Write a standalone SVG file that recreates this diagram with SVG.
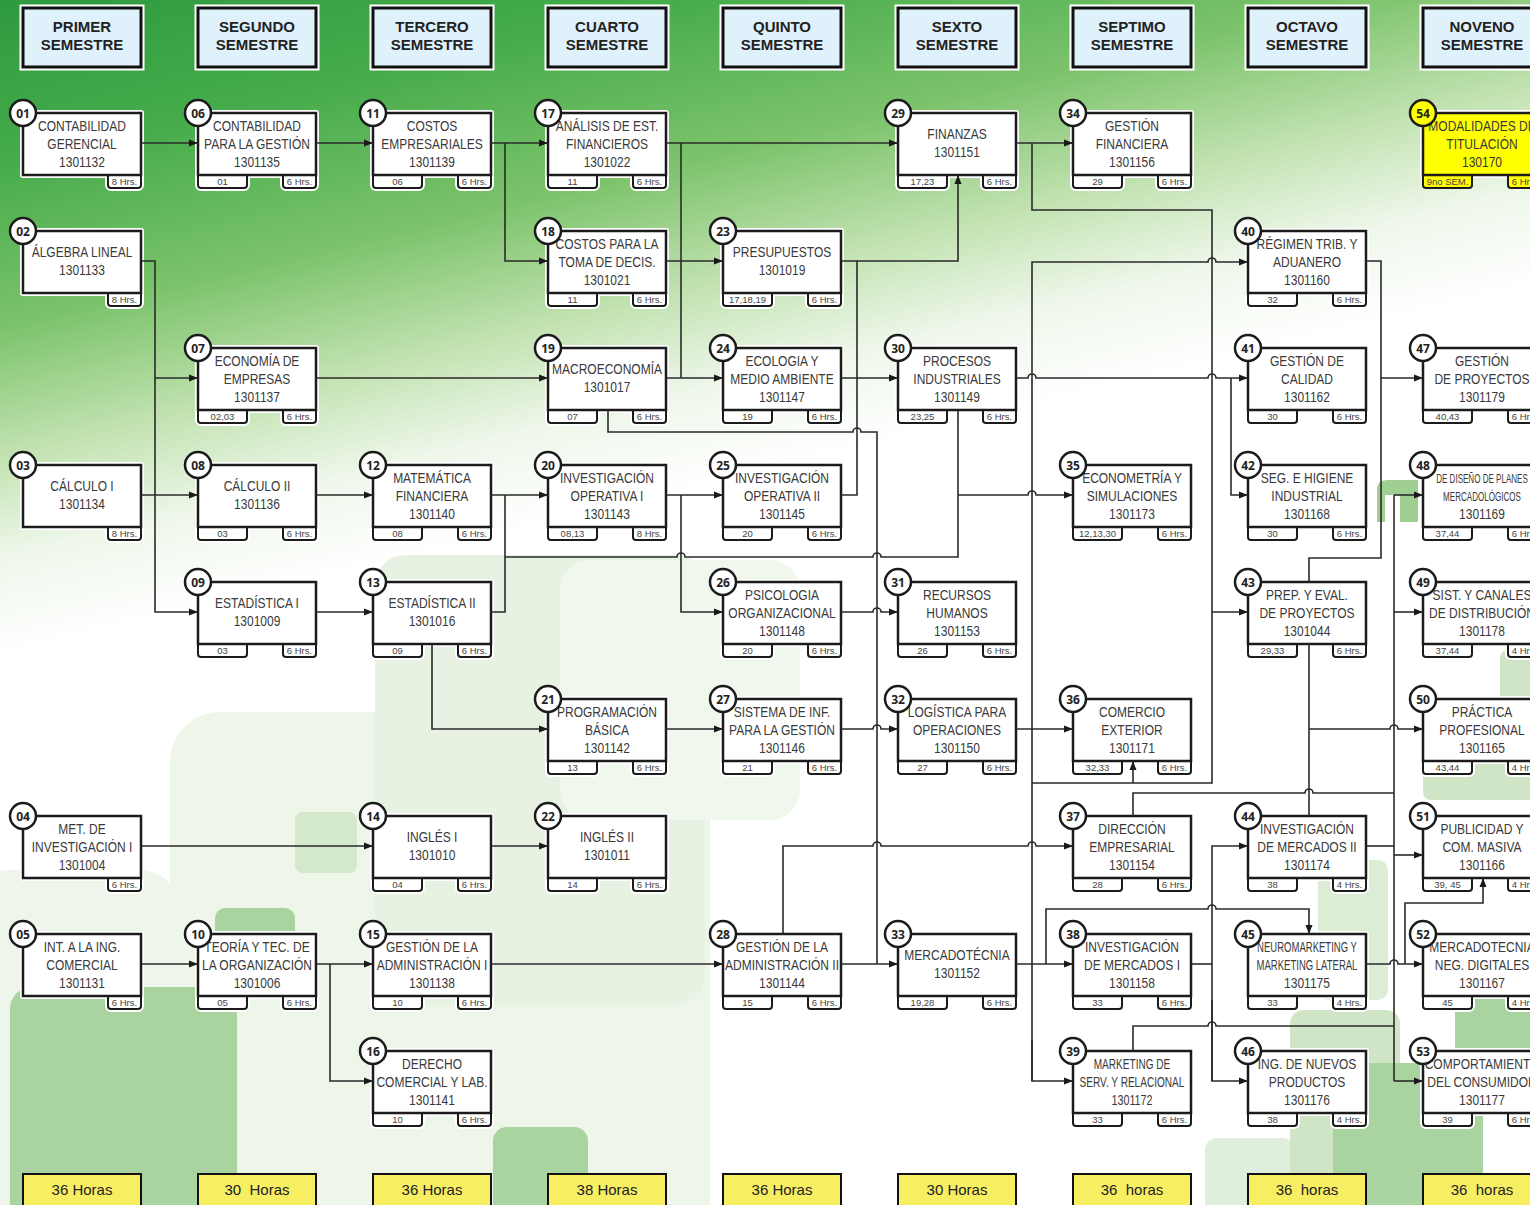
<svg xmlns="http://www.w3.org/2000/svg" width="1530" height="1205" viewBox="0 0 1530 1205">
<defs>
<linearGradient id="bg" x1="0" y1="0" x2="150" y2="620" gradientUnits="userSpaceOnUse">
<stop offset="0" stop-color="#2e9a3e"/>
<stop offset="0.25" stop-color="#46ac4b"/>
<stop offset="0.5" stop-color="#7cc36b"/>
<stop offset="0.7" stop-color="#c3e3b2"/>
<stop offset="0.85" stop-color="#eef7ea"/>
<stop offset="1" stop-color="#ffffff"/>
</linearGradient>
<marker id="ah" markerWidth="9" markerHeight="8" refX="9" refY="4" orient="auto" markerUnits="userSpaceOnUse">
<path d="M0,0.5 L9,4 L0,7.5 Z" fill="#1a1a1a"/>
</marker>
<g id="bx2">
<rect class="halo" x="0" y="0" width="118" height="62"/>
<rect class="halo" x="0" y="58" width="49" height="17" rx="3"/>
<rect class="halo" x="85" y="58" width="33" height="17" rx="3"/>
<rect class="tab" x="0" y="58" width="49" height="17" rx="3"/>
<rect class="tab" x="85" y="58" width="33" height="17" rx="3"/>
<rect class="box" x="0" y="0" width="118" height="62"/>
</g>
<g id="bx1">
<rect class="halo" x="0" y="0" width="118" height="62"/>
<rect class="halo" x="85" y="58" width="33" height="17" rx="3"/>
<rect class="tab" x="85" y="58" width="33" height="17" rx="3"/>
<rect class="box" x="0" y="0" width="118" height="62"/>
</g>
<g id="bxy">
<rect class="halo" x="0" y="0" width="118" height="62"/>
<rect class="tab" x="0" y="58" width="49" height="17" rx="3" style="fill:#ffff00"/>
<rect class="tab" x="85" y="58" width="33" height="17" rx="3" style="fill:#ffff00"/>
<rect class="box" x="0" y="0" width="118" height="62" style="fill:#ffff00"/>
</g>
<style>
.box{fill:#fff;stroke:#1b1b1b;stroke-width:2.5}
.tab{fill:#fff;stroke:#1b1b1b;stroke-width:2}
.halo{fill:none;stroke:#fff;stroke-width:6;stroke-linejoin:round}
.t text{font-family:"Liberation Sans",Arial,sans-serif;font-size:15px;fill:#3a3a3a;text-anchor:middle}
.s{font-family:"Liberation Sans",Arial,sans-serif;font-size:9.5px;fill:#444;text-anchor:middle}
.cc{fill:#fff;stroke:#1b1b1b;stroke-width:2.5}
.cn{font-family:"Noto Sans","Liberation Sans",sans-serif;font-weight:bold;font-size:12px;fill:#222;text-anchor:middle}
.hb{fill:#dff1fb;stroke:#111;stroke-width:3}
.hh{fill:none;stroke:#fff;stroke-width:7}
.ht{font-family:"Liberation Sans",Arial,sans-serif;font-weight:bold;font-size:15px;fill:#222;text-anchor:middle}
.fb{fill:#f8ee62;stroke:#111;stroke-width:2}
.ft{font-family:"Liberation Sans",Arial,sans-serif;font-size:15px;fill:#222;text-anchor:middle;white-space:pre}
.ln{fill:none;stroke:#2a2a2a;stroke-width:1.6}
.ar{marker-end:url(#ah)}
</style>
</defs>

<g id="background">
<rect x="0" y="0" width="1530" height="1205" fill="url(#bg)"/>
<rect x="170" y="712" width="540" height="560" rx="50" fill="#eef6ea"/>
<rect x="375" y="555" width="330" height="450" rx="30" fill="#e8f2e3"/>
<rect x="560" y="560" width="240" height="260" rx="30" fill="#f0f7ec"/>
<rect x="-30" y="870" width="210" height="400" rx="40" fill="#eef5ea"/>
<rect x="10" y="987" width="227" height="260" rx="22" fill="#a9d39f"/>
<rect x="215" y="908" width="80" height="40" rx="10" fill="#a9d39f"/>
<rect x="295" y="812" width="62" height="61" rx="8" fill="#d4e8cc"/>
<rect x="493" y="1127" width="95" height="100" rx="14" fill="#a9d39f"/>
<rect x="1205" y="1138" width="90" height="90" rx="12" fill="#dfeedd"/>
<rect x="1290" y="1010" width="110" height="220" rx="14" fill="#cfe5c6"/>
<rect x="1318" y="860" width="70" height="140" rx="10" fill="#dcecd5"/>
<rect x="1333" y="1063" width="150" height="160" rx="10" fill="#a9d49f"/>
<rect x="1455" y="990" width="90" height="75" rx="8" fill="#a9d49f"/>
<rect x="1423" y="760" width="120" height="40" rx="8" fill="#cfe5c6"/>
<rect x="1500" y="650" width="40" height="150" rx="8" fill="#cfe5c6"/>
<path d="M1377,490 Q1377,480 1387,480 H1418 V522 H1400 V495 H1385 V522 H1377 Z" fill="#9fcf91"/>
</g>

<g id="headers">
<g id="h1"><rect class="hh" x="23" y="8" width="118" height="59"/><rect class="hb" x="23" y="8" width="118" height="59"/><text class="ht" x="82" y="32">PRIMER</text><text class="ht" x="82" y="50">SEMESTRE</text></g>
<g id="h2"><rect class="hh" x="198" y="8" width="118" height="59"/><rect class="hb" x="198" y="8" width="118" height="59"/><text class="ht" x="257" y="32">SEGUNDO</text><text class="ht" x="257" y="50">SEMESTRE</text></g>
<g id="h3"><rect class="hh" x="373" y="8" width="118" height="59"/><rect class="hb" x="373" y="8" width="118" height="59"/><text class="ht" x="432" y="32">TERCERO</text><text class="ht" x="432" y="50">SEMESTRE</text></g>
<g id="h4"><rect class="hh" x="548" y="8" width="118" height="59"/><rect class="hb" x="548" y="8" width="118" height="59"/><text class="ht" x="607" y="32">CUARTO</text><text class="ht" x="607" y="50">SEMESTRE</text></g>
<g id="h5"><rect class="hh" x="723" y="8" width="118" height="59"/><rect class="hb" x="723" y="8" width="118" height="59"/><text class="ht" x="782" y="32">QUINTO</text><text class="ht" x="782" y="50">SEMESTRE</text></g>
<g id="h6"><rect class="hh" x="898" y="8" width="118" height="59"/><rect class="hb" x="898" y="8" width="118" height="59"/><text class="ht" x="957" y="32">SEXTO</text><text class="ht" x="957" y="50">SEMESTRE</text></g>
<g id="h7"><rect class="hh" x="1073" y="8" width="118" height="59"/><rect class="hb" x="1073" y="8" width="118" height="59"/><text class="ht" x="1132" y="32">SEPTIMO</text><text class="ht" x="1132" y="50">SEMESTRE</text></g>
<g id="h8"><rect class="hh" x="1248" y="8" width="118" height="59"/><rect class="hb" x="1248" y="8" width="118" height="59"/><text class="ht" x="1307" y="32">OCTAVO</text><text class="ht" x="1307" y="50">SEMESTRE</text></g>
<g id="h9"><rect class="hh" x="1423" y="8" width="118" height="59"/><rect class="hb" x="1423" y="8" width="118" height="59"/><text class="ht" x="1482" y="32">NOVENO</text><text class="ht" x="1482" y="50">SEMESTRE</text></g>
</g>

<g id="footers">
<g id="f1"><rect class="fb" x="23" y="1174" width="118" height="40"/><text class="ft" x="82" y="1195" xml:space="preserve">36 Horas</text></g>
<g id="f2"><rect class="fb" x="198" y="1174" width="118" height="40"/><text class="ft" x="257" y="1195" xml:space="preserve">30  Horas</text></g>
<g id="f3"><rect class="fb" x="373" y="1174" width="118" height="40"/><text class="ft" x="432" y="1195" xml:space="preserve">36 Horas</text></g>
<g id="f4"><rect class="fb" x="548" y="1174" width="118" height="40"/><text class="ft" x="607" y="1195" xml:space="preserve">38 Horas</text></g>
<g id="f5"><rect class="fb" x="723" y="1174" width="118" height="40"/><text class="ft" x="782" y="1195" xml:space="preserve">36 Horas</text></g>
<g id="f6"><rect class="fb" x="898" y="1174" width="118" height="40"/><text class="ft" x="957" y="1195" xml:space="preserve">30 Horas</text></g>
<g id="f7"><rect class="fb" x="1073" y="1174" width="118" height="40"/><text class="ft" x="1132" y="1195" xml:space="preserve">36  horas</text></g>
<g id="f8"><rect class="fb" x="1248" y="1174" width="118" height="40"/><text class="ft" x="1307" y="1195" xml:space="preserve">36  horas</text></g>
<g id="f9"><rect class="fb" x="1423" y="1174" width="118" height="40"/><text class="ft" x="1482" y="1195" xml:space="preserve">36  horas</text></g>
</g>

<g id="nodes">
<g id="n01" transform="translate(23,113)"><use href="#bx1"/><g class="t" transform="translate(59,0) scale(0.8,1)"><text y="18">CONTABILIDAD</text><text y="36">GERENCIAL</text><text y="54">1301132</text></g><text class="s" x="101.5" y="72">8 Hrs.</text><circle class="cc" r="13"/><text class="cn" y="4.5">01</text></g>
<g id="n02" transform="translate(23,231)"><use href="#bx1"/><g class="t" transform="translate(59,0) scale(0.8,1)"><text y="26">ÁLGEBRA LINEAL</text><text y="44">1301133</text></g><text class="s" x="101.5" y="72">8 Hrs.</text><circle class="cc" r="13"/><text class="cn" y="4.5">02</text></g>
<g id="n03" transform="translate(23,465)"><use href="#bx1"/><g class="t" transform="translate(59,0) scale(0.8,1)"><text y="26">CÁLCULO I</text><text y="44">1301134</text></g><text class="s" x="101.5" y="72">8 Hrs.</text><circle class="cc" r="13"/><text class="cn" y="4.5">03</text></g>
<g id="n04" transform="translate(23,816)"><use href="#bx1"/><g class="t" transform="translate(59,0) scale(0.8,1)"><text y="18">MET. DE</text><text y="36">INVESTIGACIÓN I</text><text y="54">1301004</text></g><text class="s" x="101.5" y="72">6 Hrs.</text><circle class="cc" r="13"/><text class="cn" y="4.5">04</text></g>
<g id="n05" transform="translate(23,934)"><use href="#bx1"/><g class="t" transform="translate(59,0) scale(0.8,1)"><text y="18">INT. A LA ING.</text><text y="36">COMERCIAL</text><text y="54">1301131</text></g><text class="s" x="101.5" y="72">6 Hrs.</text><circle class="cc" r="13"/><text class="cn" y="4.5">05</text></g>

<g id="n06" transform="translate(198,113)"><use href="#bx2"/><g class="t" transform="translate(59,0) scale(0.8,1)"><text y="18">CONTABILIDAD</text><text y="36">PARA LA GESTIÓN</text><text y="54">1301135</text></g><text class="s" x="24.5" y="72">01</text><text class="s" x="101.5" y="72">6 Hrs.</text><circle class="cc" r="13"/><text class="cn" y="4.5">06</text></g>
<g id="n07" transform="translate(198,348)"><use href="#bx2"/><g class="t" transform="translate(59,0) scale(0.8,1)"><text y="18">ECONOMÍA DE</text><text y="36">EMPRESAS</text><text y="54">1301137</text></g><text class="s" x="24.5" y="72">02,03</text><text class="s" x="101.5" y="72">6 Hrs.</text><circle class="cc" r="13"/><text class="cn" y="4.5">07</text></g>
<g id="n08" transform="translate(198,465)"><use href="#bx2"/><g class="t" transform="translate(59,0) scale(0.8,1)"><text y="26">CÁLCULO II</text><text y="44">1301136</text></g><text class="s" x="24.5" y="72">03</text><text class="s" x="101.5" y="72">6 Hrs.</text><circle class="cc" r="13"/><text class="cn" y="4.5">08</text></g>
<g id="n09" transform="translate(198,582)"><use href="#bx2"/><g class="t" transform="translate(59,0) scale(0.8,1)"><text y="26">ESTADÍSTICA I</text><text y="44">1301009</text></g><text class="s" x="24.5" y="72">03</text><text class="s" x="101.5" y="72">6 Hrs.</text><circle class="cc" r="13"/><text class="cn" y="4.5">09</text></g>
<g id="n10" transform="translate(198,934)"><use href="#bx2"/><g class="t" transform="translate(59,0) scale(0.8,1)"><text y="18">TEORÍA Y TEC. DE</text><text y="36">LA ORGANIZACIÓN</text><text y="54">1301006</text></g><text class="s" x="24.5" y="72">05</text><text class="s" x="101.5" y="72">6 Hrs.</text><circle class="cc" r="13"/><text class="cn" y="4.5">10</text></g>

<g id="n11" transform="translate(373,113)"><use href="#bx2"/><g class="t" transform="translate(59,0) scale(0.8,1)"><text y="18">COSTOS</text><text y="36">EMPRESARIALES</text><text y="54">1301139</text></g><text class="s" x="24.5" y="72">06</text><text class="s" x="101.5" y="72">6 Hrs.</text><circle class="cc" r="13"/><text class="cn" y="4.5">11</text></g>
<g id="n12" transform="translate(373,465)"><use href="#bx2"/><g class="t" transform="translate(59,0) scale(0.8,1)"><text y="18">MATEMÁTICA</text><text y="36">FINANCIERA</text><text y="54">1301140</text></g><text class="s" x="24.5" y="72">08</text><text class="s" x="101.5" y="72">6 Hrs.</text><circle class="cc" r="13"/><text class="cn" y="4.5">12</text></g>
<g id="n13" transform="translate(373,582)"><use href="#bx2"/><g class="t" transform="translate(59,0) scale(0.8,1)"><text y="26">ESTADÍSTICA II</text><text y="44">1301016</text></g><text class="s" x="24.5" y="72">09</text><text class="s" x="101.5" y="72">6 Hrs.</text><circle class="cc" r="13"/><text class="cn" y="4.5">13</text></g>
<g id="n14" transform="translate(373,816)"><use href="#bx2"/><g class="t" transform="translate(59,0) scale(0.8,1)"><text y="26">INGLÉS I</text><text y="44">1301010</text></g><text class="s" x="24.5" y="72">04</text><text class="s" x="101.5" y="72">6 Hrs.</text><circle class="cc" r="13"/><text class="cn" y="4.5">14</text></g>
<g id="n15" transform="translate(373,934)"><use href="#bx2"/><g class="t" transform="translate(59,0) scale(0.8,1)"><text y="18">GESTIÓN DE LA</text><text y="36">ADMINISTRACIÓN I</text><text y="54">1301138</text></g><text class="s" x="24.5" y="72">10</text><text class="s" x="101.5" y="72">6 Hrs.</text><circle class="cc" r="13"/><text class="cn" y="4.5">15</text></g>
<g id="n16" transform="translate(373,1051)"><use href="#bx2"/><g class="t" transform="translate(59,0) scale(0.8,1)"><text y="18">DERECHO</text><text y="36">COMERCIAL Y LAB.</text><text y="54">1301141</text></g><text class="s" x="24.5" y="72">10</text><text class="s" x="101.5" y="72">6 Hrs.</text><circle class="cc" r="13"/><text class="cn" y="4.5">16</text></g>

<g id="n17" transform="translate(548,113)"><use href="#bx2"/><g class="t" transform="translate(59,0) scale(0.8,1)"><text y="18">ANÁLISIS DE EST.</text><text y="36">FINANCIEROS</text><text y="54">1301022</text></g><text class="s" x="24.5" y="72">11</text><text class="s" x="101.5" y="72">6 Hrs.</text><circle class="cc" r="13"/><text class="cn" y="4.5">17</text></g>
<g id="n18" transform="translate(548,231)"><use href="#bx2"/><g class="t" transform="translate(59,0) scale(0.8,1)"><text y="18">COSTOS PARA LA</text><text y="36">TOMA DE DECIS.</text><text y="54">1301021</text></g><text class="s" x="24.5" y="72">11</text><text class="s" x="101.5" y="72">6 Hrs.</text><circle class="cc" r="13"/><text class="cn" y="4.5">18</text></g>
<g id="n19" transform="translate(548,348)"><use href="#bx2"/><g class="t" transform="translate(59,0) scale(0.8,1)"><text y="26">MACROECONOMÍA</text><text y="44">1301017</text></g><text class="s" x="24.5" y="72">07</text><text class="s" x="101.5" y="72">6 Hrs.</text><circle class="cc" r="13"/><text class="cn" y="4.5">19</text></g>
<g id="n20" transform="translate(548,465)"><use href="#bx2"/><g class="t" transform="translate(59,0) scale(0.8,1)"><text y="18">INVESTIGACIÓN</text><text y="36">OPERATIVA I</text><text y="54">1301143</text></g><text class="s" x="24.5" y="72">08,13</text><text class="s" x="101.5" y="72">8 Hrs.</text><circle class="cc" r="13"/><text class="cn" y="4.5">20</text></g>
<g id="n21" transform="translate(548,699)"><use href="#bx2"/><g class="t" transform="translate(59,0) scale(0.8,1)"><text y="18">PROGRAMACIÓN</text><text y="36">BÁSICA</text><text y="54">1301142</text></g><text class="s" x="24.5" y="72">13</text><text class="s" x="101.5" y="72">6 Hrs.</text><circle class="cc" r="13"/><text class="cn" y="4.5">21</text></g>
<g id="n22" transform="translate(548,816)"><use href="#bx2"/><g class="t" transform="translate(59,0) scale(0.8,1)"><text y="26">INGLÉS II</text><text y="44">1301011</text></g><text class="s" x="24.5" y="72">14</text><text class="s" x="101.5" y="72">6 Hrs.</text><circle class="cc" r="13"/><text class="cn" y="4.5">22</text></g>

<g id="n23" transform="translate(723,231)"><use href="#bx2"/><g class="t" transform="translate(59,0) scale(0.8,1)"><text y="26">PRESUPUESTOS</text><text y="44">1301019</text></g><text class="s" x="24.5" y="72">17,18,19</text><text class="s" x="101.5" y="72">6 Hrs.</text><circle class="cc" r="13"/><text class="cn" y="4.5">23</text></g>
<g id="n24" transform="translate(723,348)"><use href="#bx2"/><g class="t" transform="translate(59,0) scale(0.8,1)"><text y="18">ECOLOGIA Y</text><text y="36">MEDIO AMBIENTE</text><text y="54">1301147</text></g><text class="s" x="24.5" y="72">19</text><text class="s" x="101.5" y="72">6 Hrs.</text><circle class="cc" r="13"/><text class="cn" y="4.5">24</text></g>
<g id="n25" transform="translate(723,465)"><use href="#bx2"/><g class="t" transform="translate(59,0) scale(0.8,1)"><text y="18">INVESTIGACIÓN</text><text y="36">OPERATIVA II</text><text y="54">1301145</text></g><text class="s" x="24.5" y="72">20</text><text class="s" x="101.5" y="72">6 Hrs.</text><circle class="cc" r="13"/><text class="cn" y="4.5">25</text></g>
<g id="n26" transform="translate(723,582)"><use href="#bx2"/><g class="t" transform="translate(59,0) scale(0.8,1)"><text y="18">PSICOLOGIA</text><text y="36">ORGANIZACIONAL</text><text y="54">1301148</text></g><text class="s" x="24.5" y="72">20</text><text class="s" x="101.5" y="72">6 Hrs.</text><circle class="cc" r="13"/><text class="cn" y="4.5">26</text></g>
<g id="n27" transform="translate(723,699)"><use href="#bx2"/><g class="t" transform="translate(59,0) scale(0.8,1)"><text y="18">SISTEMA DE INF.</text><text y="36">PARA LA GESTIÓN</text><text y="54">1301146</text></g><text class="s" x="24.5" y="72">21</text><text class="s" x="101.5" y="72">6 Hrs.</text><circle class="cc" r="13"/><text class="cn" y="4.5">27</text></g>
<g id="n28" transform="translate(723,934)"><use href="#bx2"/><g class="t" transform="translate(59,0) scale(0.8,1)"><text y="18">GESTIÓN DE LA</text><text y="36">ADMINISTRACIÓN II</text><text y="54">1301144</text></g><text class="s" x="24.5" y="72">15</text><text class="s" x="101.5" y="72">6 Hrs.</text><circle class="cc" r="13"/><text class="cn" y="4.5">28</text></g>

<g id="n29" transform="translate(898,113)"><use href="#bx2"/><g class="t" transform="translate(59,0) scale(0.8,1)"><text y="26">FINANZAS</text><text y="44">1301151</text></g><text class="s" x="24.5" y="72">17,23</text><text class="s" x="101.5" y="72">6 Hrs.</text><circle class="cc" r="13"/><text class="cn" y="4.5">29</text></g>
<g id="n30" transform="translate(898,348)"><use href="#bx2"/><g class="t" transform="translate(59,0) scale(0.8,1)"><text y="18">PROCESOS</text><text y="36">INDUSTRIALES</text><text y="54">1301149</text></g><text class="s" x="24.5" y="72">23,25</text><text class="s" x="101.5" y="72">6 Hrs.</text><circle class="cc" r="13"/><text class="cn" y="4.5">30</text></g>
<g id="n31" transform="translate(898,582)"><use href="#bx2"/><g class="t" transform="translate(59,0) scale(0.8,1)"><text y="18">RECURSOS</text><text y="36">HUMANOS</text><text y="54">1301153</text></g><text class="s" x="24.5" y="72">26</text><text class="s" x="101.5" y="72">6 Hrs.</text><circle class="cc" r="13"/><text class="cn" y="4.5">31</text></g>
<g id="n32" transform="translate(898,699)"><use href="#bx2"/><g class="t" transform="translate(59,0) scale(0.8,1)"><text y="18">LOGÍSTICA PARA</text><text y="36">OPERACIONES</text><text y="54">1301150</text></g><text class="s" x="24.5" y="72">27</text><text class="s" x="101.5" y="72">6 Hrs.</text><circle class="cc" r="13"/><text class="cn" y="4.5">32</text></g>
<g id="n33" transform="translate(898,934)"><use href="#bx2"/><g class="t" transform="translate(59,0) scale(0.8,1)"><text y="26">MERCADOTÉCNIA</text><text y="44">1301152</text></g><text class="s" x="24.5" y="72">19,28</text><text class="s" x="101.5" y="72">6 Hrs.</text><circle class="cc" r="13"/><text class="cn" y="4.5">33</text></g>

<g id="n34" transform="translate(1073,113)"><use href="#bx2"/><g class="t" transform="translate(59,0) scale(0.8,1)"><text y="18">GESTIÓN</text><text y="36">FINANCIERA</text><text y="54">1301156</text></g><text class="s" x="24.5" y="72">29</text><text class="s" x="101.5" y="72">6 Hrs.</text><circle class="cc" r="13"/><text class="cn" y="4.5">34</text></g>
<g id="n35" transform="translate(1073,465)"><use href="#bx2"/><g class="t" transform="translate(59,0) scale(0.8,1)"><text y="18">ECONOMETRÍA Y</text><text y="36">SIMULACIONES</text><text y="54">1301173</text></g><text class="s" x="24.5" y="72">12,13,30</text><text class="s" x="101.5" y="72">6 Hrs.</text><circle class="cc" r="13"/><text class="cn" y="4.5">35</text></g>
<g id="n36" transform="translate(1073,699)"><use href="#bx2"/><g class="t" transform="translate(59,0) scale(0.8,1)"><text y="18">COMERCIO</text><text y="36">EXTERIOR</text><text y="54">1301171</text></g><text class="s" x="24.5" y="72">32,33</text><text class="s" x="101.5" y="72">6 Hrs.</text><circle class="cc" r="13"/><text class="cn" y="4.5">36</text></g>
<g id="n37" transform="translate(1073,816)"><use href="#bx2"/><g class="t" transform="translate(59,0) scale(0.8,1)"><text y="18">DIRECCIÓN</text><text y="36">EMPRESARIAL</text><text y="54">1301154</text></g><text class="s" x="24.5" y="72">28</text><text class="s" x="101.5" y="72">6 Hrs.</text><circle class="cc" r="13"/><text class="cn" y="4.5">37</text></g>
<g id="n38" transform="translate(1073,934)"><use href="#bx2"/><g class="t" transform="translate(59,0) scale(0.8,1)"><text y="18">INVESTIGACIÓN</text><text y="36">DE MERCADOS I</text><text y="54">1301158</text></g><text class="s" x="24.5" y="72">33</text><text class="s" x="101.5" y="72">6 Hrs.</text><circle class="cc" r="13"/><text class="cn" y="4.5">38</text></g>
<g id="n39" transform="translate(1073,1051)"><use href="#bx2"/><g class="t" transform="translate(59,0) scale(0.72,1)"><text y="18" style="font-size:14px">MARKETING DE</text><text y="36" style="font-size:14px">SERV. Y RELACIONAL</text><text y="54">1301172</text></g><text class="s" x="24.5" y="72">33</text><text class="s" x="101.5" y="72">6 Hrs.</text><circle class="cc" r="13"/><text class="cn" y="4.5">39</text></g>

<g id="n40" transform="translate(1248,231)"><use href="#bx2"/><g class="t" transform="translate(59,0) scale(0.8,1)"><text y="18">RÉGIMEN TRIB. Y</text><text y="36">ADUANERO</text><text y="54">1301160</text></g><text class="s" x="24.5" y="72">32</text><text class="s" x="101.5" y="72">6 Hrs.</text><circle class="cc" r="13"/><text class="cn" y="4.5">40</text></g>
<g id="n41" transform="translate(1248,348)"><use href="#bx2"/><g class="t" transform="translate(59,0) scale(0.8,1)"><text y="18">GESTIÓN DE</text><text y="36">CALIDAD</text><text y="54">1301162</text></g><text class="s" x="24.5" y="72">30</text><text class="s" x="101.5" y="72">6 Hrs.</text><circle class="cc" r="13"/><text class="cn" y="4.5">41</text></g>
<g id="n42" transform="translate(1248,465)"><use href="#bx2"/><g class="t" transform="translate(59,0) scale(0.8,1)"><text y="18">SEG. E HIGIENE</text><text y="36">INDUSTRIAL</text><text y="54">1301168</text></g><text class="s" x="24.5" y="72">30</text><text class="s" x="101.5" y="72">6 Hrs.</text><circle class="cc" r="13"/><text class="cn" y="4.5">42</text></g>
<g id="n43" transform="translate(1248,582)"><use href="#bx2"/><g class="t" transform="translate(59,0) scale(0.8,1)"><text y="18">PREP. Y EVAL.</text><text y="36">DE PROYECTOS</text><text y="54">1301044</text></g><text class="s" x="24.5" y="72">29,33</text><text class="s" x="101.5" y="72">6 Hrs.</text><circle class="cc" r="13"/><text class="cn" y="4.5">43</text></g>
<g id="n44" transform="translate(1248,816)"><use href="#bx2"/><g class="t" transform="translate(59,0) scale(0.8,1)"><text y="18">INVESTIGACIÓN</text><text y="36">DE MERCADOS II</text><text y="54">1301174</text></g><text class="s" x="24.5" y="72">38</text><text class="s" x="101.5" y="72">4 Hrs.</text><circle class="cc" r="13"/><text class="cn" y="4.5">44</text></g>
<g id="n45" transform="translate(1248,934)"><use href="#bx2"/><g class="t" transform="translate(59,0) scale(0.68,1)"><text y="18" style="font-size:14px">NEUROMARKETING Y</text><text y="36" style="font-size:14px">MARKETING LATERAL</text><text y="54" transform="scale(1.18,1)">1301175</text></g><text class="s" x="24.5" y="72">33</text><text class="s" x="101.5" y="72">4 Hrs.</text><circle class="cc" r="13"/><text class="cn" y="4.5">45</text></g>
<g id="n46" transform="translate(1248,1051)"><use href="#bx2"/><g class="t" transform="translate(59,0) scale(0.8,1)"><text y="18">ING. DE NUEVOS</text><text y="36">PRODUCTOS</text><text y="54">1301176</text></g><text class="s" x="24.5" y="72">38</text><text class="s" x="101.5" y="72">4 Hrs.</text><circle class="cc" r="13"/><text class="cn" y="4.5">46</text></g>

<g id="n54" transform="translate(1423,113)"><use href="#bxy"/><g class="t" transform="translate(59,0) scale(0.8,1)"><text y="18">MODALIDADES DE</text><text y="36">TITULACIÓN</text><text y="54">130170</text></g><text class="s" x="24.5" y="72">9no SEM.</text><text class="s" x="101.5" y="72">6 Hrs.</text><circle class="cc" r="13" style="fill:#ffff00"/><text class="cn" y="4.5">54</text></g>
<g id="n47" transform="translate(1423,348)"><use href="#bx2"/><g class="t" transform="translate(59,0) scale(0.8,1)"><text y="18">GESTIÓN</text><text y="36">DE PROYECTOS</text><text y="54">1301179</text></g><text class="s" x="24.5" y="72">40,43</text><text class="s" x="101.5" y="72">6 Hrs.</text><circle class="cc" r="13"/><text class="cn" y="4.5">47</text></g>
<g id="n48" transform="translate(1423,465)"><use href="#bx2"/><g class="t" transform="translate(59,0) scale(0.62,1)"><text y="18" style="font-size:13px">DE DISEÑO DE PLANES</text><text y="36" style="font-size:13px">MERCADOLÓGICOS</text><text y="54" transform="scale(1.29,1)">1301169</text></g><text class="s" x="24.5" y="72">37,44</text><text class="s" x="101.5" y="72">6 Hrs.</text><circle class="cc" r="13"/><text class="cn" y="4.5">48</text></g>
<g id="n49" transform="translate(1423,582)"><use href="#bx2"/><g class="t" transform="translate(59,0) scale(0.8,1)"><text y="18">SIST. Y CANALES</text><text y="36">DE DISTRIBUCIÓN</text><text y="54">1301178</text></g><text class="s" x="24.5" y="72">37,44</text><text class="s" x="101.5" y="72">4 Hrs.</text><circle class="cc" r="13"/><text class="cn" y="4.5">49</text></g>
<g id="n50" transform="translate(1423,699)"><use href="#bx2"/><g class="t" transform="translate(59,0) scale(0.8,1)"><text y="18">PRÁCTICA</text><text y="36">PROFESIONAL</text><text y="54">1301165</text></g><text class="s" x="24.5" y="72">43,44</text><text class="s" x="101.5" y="72">4 Hrs.</text><circle class="cc" r="13"/><text class="cn" y="4.5">50</text></g>
<g id="n51" transform="translate(1423,816)"><use href="#bx2"/><g class="t" transform="translate(59,0) scale(0.8,1)"><text y="18">PUBLICIDAD Y</text><text y="36">COM. MASIVA</text><text y="54">1301166</text></g><text class="s" x="24.5" y="72">39, 45</text><text class="s" x="101.5" y="72">4 Hrs.</text><circle class="cc" r="13"/><text class="cn" y="4.5">51</text></g>
<g id="n52" transform="translate(1423,934)"><use href="#bx2"/><g class="t" transform="translate(59,0) scale(0.8,1)"><text y="18">MERCADOTECNIA</text><text y="36">NEG. DIGITALES</text><text y="54">1301167</text></g><text class="s" x="24.5" y="72">45</text><text class="s" x="101.5" y="72">4 Hrs.</text><circle class="cc" r="13"/><text class="cn" y="4.5">52</text></g>
<g id="n53" transform="translate(1423,1051)"><use href="#bx2"/><g class="t" transform="translate(59,0) scale(0.8,1)"><text y="18">COMPORTAMIENTO</text><text y="36">DEL CONSUMIDOR</text><text y="54">1301177</text></g><text class="s" x="24.5" y="72">39</text><text class="s" x="101.5" y="72">6 Hrs.</text><circle class="cc" r="13"/><text class="cn" y="4.5">53</text></g>
</g>

<g id="connectors">
<path class="ln ar" d="M141,143 H198"/>
<path class="ln ar" d="M316,143 H373"/>
<path class="ln ar" d="M491,143 H548"/>
<path class="ln ar" d="M505,143 V261 H548"/>
<path class="ln ar" d="M666,143 H898"/>
<path class="ln" d="M681,143 V378"/>
<path class="ln ar" d="M666,261 H723"/>
<path class="ln ar" d="M666,378 H723"/>
<path class="ln ar" d="M316,378 H548"/>
<path class="ln ar" d="M141,261 H155 V612 H198"/>
<path class="ln ar" d="M155,378 H198"/>
<path class="ln ar" d="M141,495 H198"/>
<path class="ln ar" d="M316,495 H373"/>
<path class="ln ar" d="M316,612 H373"/>
<path class="ln ar" d="M491,495 H548"/>
<path class="ln" d="M491,612 H505 V495"/>
<path class="ln" d="M505,557 H677 a4,4 0 0 1 8,0 H873 a4,4 0 0 1 8,0 H958 V410"/>
<path class="ln ar" d="M958,495 H1028 a4,4 0 0 1 8,0 H1073"/>
<path class="ln ar" d="M141,846 H373"/>
<path class="ln ar" d="M491,846 H548"/>
<path class="ln ar" d="M432,644 V729 H548"/>
<path class="ln ar" d="M666,495 H723"/>
<path class="ln ar" d="M681,495 V612 H723"/>
<path class="ln ar" d="M666,729 H723"/>
<path class="ln ar" d="M841,261 H958 V175"/>
<path class="ln" d="M857,261 V495 H841"/>
<path class="ln ar" d="M841,378 H898"/>
<path class="ln" d="M608,410 V432 H853 a4,4 0 0 1 8,0 H877 V964"/>
<path class="ln ar" d="M841,964 H898"/>
<path class="ln ar" d="M841,612 H873 a4,4 0 0 1 8,0 H898"/>
<path class="ln ar" d="M841,729 H873 a4,4 0 0 1 8,0 H898"/>
<path class="ln ar" d="M783,934 V846 H873 a4,4 0 0 1 8,0 H1028 a4,4 0 0 1 8,0 H1073"/>
<path class="ln ar" d="M141,964 H198"/>
<path class="ln ar" d="M316,964 H373"/>
<path class="ln ar" d="M330,964 V1081 H373"/>
<path class="ln ar" d="M491,964 H723"/>
<path class="ln ar" d="M1016,143 H1073"/>
<path class="ln" d="M1032,143 V210 H1212 V783 H1032"/>
<path class="ln ar" d="M1212,612 H1248"/>
<path class="ln ar" d="M1032,1081 V262 H1208 a4,4 0 0 1 8,0 H1248"/>
<path class="ln ar" d="M1032,1040 V1081 H1073"/>
<path class="ln ar" d="M1016,378 H1028 a4,4 0 0 1 8,0 H1208 a4,4 0 0 1 8,0 H1248"/>
<path class="ln ar" d="M1231,378 V495 H1248"/>
<path class="ln ar" d="M1016,729 H1073"/>
<path class="ln ar" d="M1016,964 H1073"/>
<path class="ln ar" d="M1046,964 V909 H1208 a4,4 0 0 1 8,0 H1309 V934"/>
<path class="ln ar" d="M1133,783 V761"/>
<path class="ln" d="M1133,816 V793 H1305 a4,4 0 0 1 8,0 H1394"/>
<path class="ln" d="M1191,964 H1212"/>
<path class="ln ar" d="M1212,1081 V846 H1248"/>
<path class="ln ar" d="M1212,1000 V1081 H1248"/>
<path class="ln" d="M1133,1051 V1026 H1208 a4,4 0 0 1 8,0 H1394"/>
<path class="ln ar" d="M1366,261 H1381 V378 H1423"/>
<path class="ln" d="M1309,582 V558 H1381 V378"/>
<path class="ln" d="M1309,644 V816"/>
<path class="ln ar" d="M1309,729 H1390 a4,4 0 0 1 8,0 H1423"/>
<path class="ln" d="M1394,495 V1081"/>
<path class="ln ar" d="M1394,495 H1423"/>
<path class="ln ar" d="M1394,612 H1423"/>
<path class="ln ar" d="M1394,855 H1423"/>
<path class="ln ar" d="M1394,1081 H1423"/>
<path class="ln" d="M1366,846 H1394"/>
<path class="ln ar" d="M1366,964 H1390 a4,4 0 0 1 8,0 H1423"/>
<path class="ln ar" d="M1405,964 V903 H1483 V878"/>
</g>
</svg>
